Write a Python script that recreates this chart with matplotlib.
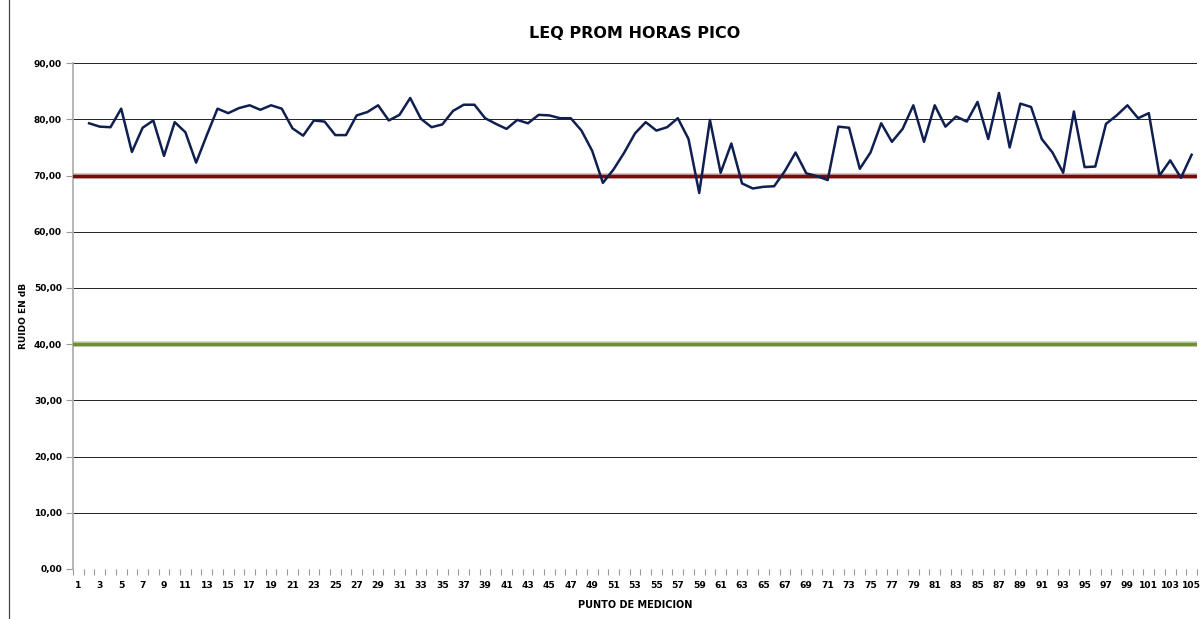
import numpy as np
import matplotlib
matplotlib.use("Agg")
from matplotlib import pyplot as plt
from matplotlib.lines import Line2D

# puntos de medicion 1..105 (el punto 1 no tiene dato)
puntos = list(range(1, 106))
leq = [np.nan, 79.3, 78.7, 78.6, 81.9, 74.2, 78.5, 79.8, 73.5, 79.5,
       77.7, 72.3, 77.2, 81.9, 81.1, 82.0, 82.5, 81.7, 82.5, 81.9,
       78.4, 77.1, 79.8, 79.6, 77.2, 77.2, 80.7, 81.3, 82.5, 79.8,
       80.8, 83.8, 80.1, 78.6, 79.1, 81.5, 82.6, 82.6, 80.2, 79.2,
       78.3, 79.9, 79.3, 80.8, 80.7, 80.2, 80.2, 78.0, 74.4, 68.7,
       71.1, 74.1, 77.5, 79.5, 78.0, 78.6, 80.2, 76.5, 66.9, 79.9,
       70.5, 75.7, 68.6, 67.7, 68.0, 68.1, 70.8, 74.1, 70.4, 69.9,
       69.2, 78.7, 78.5, 71.2, 74.1, 79.3, 76.0, 78.3, 82.5, 76.0,
       82.5, 78.7, 80.5, 79.6, 83.1, 76.5, 84.7, 75.0, 82.8, 82.2,
       76.5, 74.1, 70.5, 81.4, 71.5, 71.6, 79.2, 80.7, 82.5, 80.2,
       81.1, 70.0, 72.7, 69.6, 73.7]
limite_rojo = 70
limite_verde = 40
y_ticks = list(range(0, 100, 10))

fig = plt.figure(figsize=(12.03, 6.19), dpi=100)
ax = fig.add_axes([0.0607, 0.0808, 0.9343, 0.8172])

# lineas de referencia
ax.axhline(limite_rojo, color="#c8b8b8", linewidth=4, zorder=2)
ax.axhline(limite_rojo, color="#7a0a0a", linewidth=2.5, zorder=3)
ax.axhline(limite_verde, color="#c8cfc0", linewidth=4, zorder=2)
ax.axhline(limite_verde, color="#6f8f35", linewidth=2.5, zorder=3)

ax.plot(puntos, leq, color="#0f1f4f", linewidth=1.8, zorder=4)

ax.set_xlim(0.5, 105.5)
ax.set_ylim(0, 90)
ax.set_yticks(y_ticks)
ax.set_yticklabels(["{:.2f}".format(v).replace(".", ",") for v in y_ticks],
                   fontsize=6.5, fontweight="bold")
ax.set_xticks(puntos[::2])
ax.set_xticklabels([str(p) for p in puntos[::2]], fontsize=6.6, fontweight="bold")
ax.set_xticks(np.arange(0.5, 106, 1), minor=True)
ax.tick_params(axis="x", which="major", length=0, pad=9)
ax.tick_params(axis="x", which="minor", length=4, color="#999999", width=0.8)
ax.tick_params(axis="y", length=5, color="#999999", width=0.8, pad=3)

ax.grid(axis="y", color="#222222", linewidth=0.7, zorder=1)
for s in ["top", "right", "bottom"]:
    ax.spines[s].set_visible(False)
ax.spines["left"].set_color("#aaaaaa")
ax.spines["left"].set_linewidth(1.2)

ax.set_title("LEQ PROM HORAS PICO", fontsize=11.5, fontweight="bold", pad=18)
ax.set_xlabel("PUNTO DE MEDICION", fontsize=7, fontweight="bold", labelpad=7)
ax.set_ylabel("RUIDO EN dB", fontsize=6.5, fontweight="bold", labelpad=4)

# borde izquierdo del area del grafico
fig.add_artist(Line2D([0.0075, 0.0075], [0.0, 1.0], color="#444444",
                      linewidth=0.9, transform=fig.transFigure))

fig.savefig("out.png", dpi=100)
